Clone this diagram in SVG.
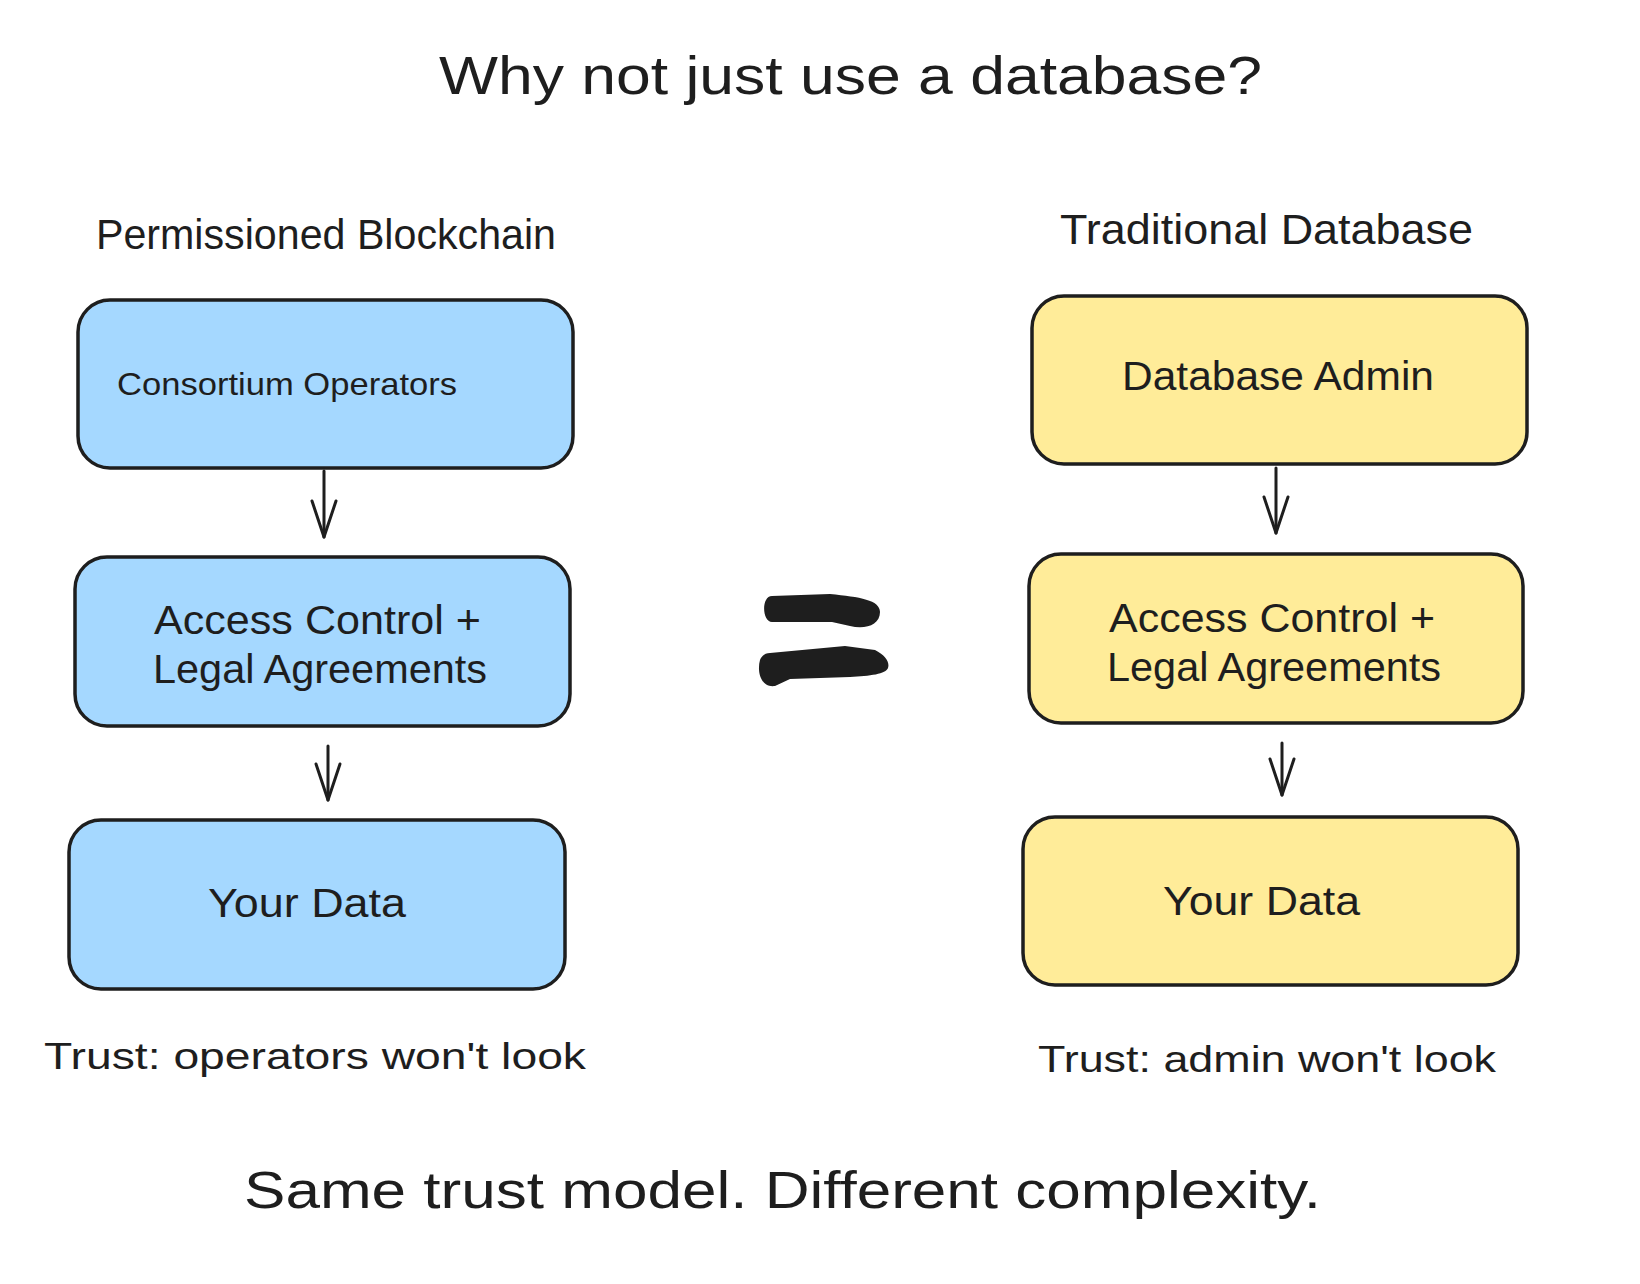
<svg xmlns="http://www.w3.org/2000/svg" width="1640" height="1284" viewBox="0 0 1640 1284">
<defs>
<style>
.t{font-family:"Liberation Sans","DejaVu Sans",sans-serif;fill:#1e1e1e}
.blue{fill:#a5d8ff;stroke:#1e1e1e;stroke-width:3.5}
.yellow{fill:#ffec99;stroke:#1e1e1e;stroke-width:3.5}
.conn{stroke:#1e1e1e;stroke-width:3;fill:none;stroke-linecap:round}
</style>
<marker id="arr" markerUnits="userSpaceOnUse" viewBox="-40 -20 44 40" refX="0" refY="0" markerWidth="44" markerHeight="40" orient="auto" overflow="visible">
<path d="M-36,-12 L0,0 L-36,12" fill="none" stroke="#1e1e1e" stroke-width="3" stroke-linecap="round" stroke-linejoin="round"/>
</marker>
</defs>
<rect width="1640" height="1284" fill="#ffffff"/>

<g id="title">
<text class="t" x="439" y="94" font-size="54" textLength="823" lengthAdjust="spacingAndGlyphs">Why not just use a database?</text>
</g>
<g id="header-left">
<text class="t" x="96" y="249" font-size="42" textLength="460" lengthAdjust="spacingAndGlyphs">Permissioned Blockchain</text>
</g>
<g id="header-right">
<text class="t" x="1060" y="244" font-size="42" textLength="413" lengthAdjust="spacingAndGlyphs">Traditional Database</text>
</g>

<g id="connectors">
<line class="conn" x1="324" y1="471" x2="324" y2="537" marker-end="url(#arr)"/>
<line class="conn" x1="328" y1="746" x2="328" y2="800" marker-end="url(#arr)"/>
<line class="conn" x1="1276" y1="468" x2="1276" y2="533" marker-end="url(#arr)"/>
<line class="conn" x1="1282" y1="743" x2="1282" y2="795" marker-end="url(#arr)"/>
</g>

<g id="node-consortium">
<rect class="blue" x="78" y="300" width="495" height="168" rx="32"/>
<text class="t" x="117" y="395" font-size="32" textLength="340" lengthAdjust="spacingAndGlyphs">Consortium Operators</text>
</g>
<g id="node-access-left">
<rect class="blue" x="75" y="557" width="495" height="169" rx="32"/>
<text class="t" x="154" y="634" font-size="40" textLength="327" lengthAdjust="spacingAndGlyphs">Access Control +</text>
<text class="t" x="153" y="683" font-size="40" textLength="334" lengthAdjust="spacingAndGlyphs">Legal Agreements</text>
</g>
<g id="node-data-left">
<rect class="blue" x="69" y="820" width="496" height="169" rx="32"/>
<text class="t" x="208" y="917" font-size="40" textLength="198" lengthAdjust="spacingAndGlyphs">Your Data</text>
</g>

<g id="node-admin">
<rect class="yellow" x="1032" y="296" width="495" height="168" rx="32"/>
<text class="t" x="1122" y="390" font-size="40" textLength="312" lengthAdjust="spacingAndGlyphs">Database Admin</text>
</g>
<g id="node-access-right">
<rect class="yellow" x="1029" y="554" width="494" height="169" rx="32"/>
<text class="t" x="1109" y="632" font-size="40" textLength="326" lengthAdjust="spacingAndGlyphs">Access Control +</text>
<text class="t" x="1107" y="681" font-size="40" textLength="334" lengthAdjust="spacingAndGlyphs">Legal Agreements</text>
</g>
<g id="node-data-right">
<rect class="yellow" x="1023" y="817" width="495" height="168" rx="32"/>
<text class="t" x="1163" y="915" font-size="40" textLength="197" lengthAdjust="spacingAndGlyphs">Your Data</text>
</g>

<g id="equals">
<path d="M772,596 L830,594 C860,597 880,600 880,612 C880,625 865,630 850,626 L832,622 L772,622 C762,622 761,596 772,596 Z" fill="#1e1e1e"/>
<path d="M770,653 L845,646 L875,650 C885,655 890,662 888,668 C886,674 870,676 850,677 L790,679 L775,686 C760,688 757,670 760,660 C762,655 766,653 770,653 Z" fill="#1e1e1e"/>
</g>

<g id="trust-left">
<text class="t" x="44" y="1069" font-size="36" textLength="542" lengthAdjust="spacingAndGlyphs">Trust: operators won't look</text>
</g>
<g id="trust-right">
<text class="t" x="1038" y="1072" font-size="36" textLength="458" lengthAdjust="spacingAndGlyphs">Trust: admin won't look</text>
</g>
<g id="footer">
<text class="t" x="244" y="1208" font-size="52" textLength="1077" lengthAdjust="spacingAndGlyphs">Same trust model. Different complexity.</text>
</g>
</svg>
